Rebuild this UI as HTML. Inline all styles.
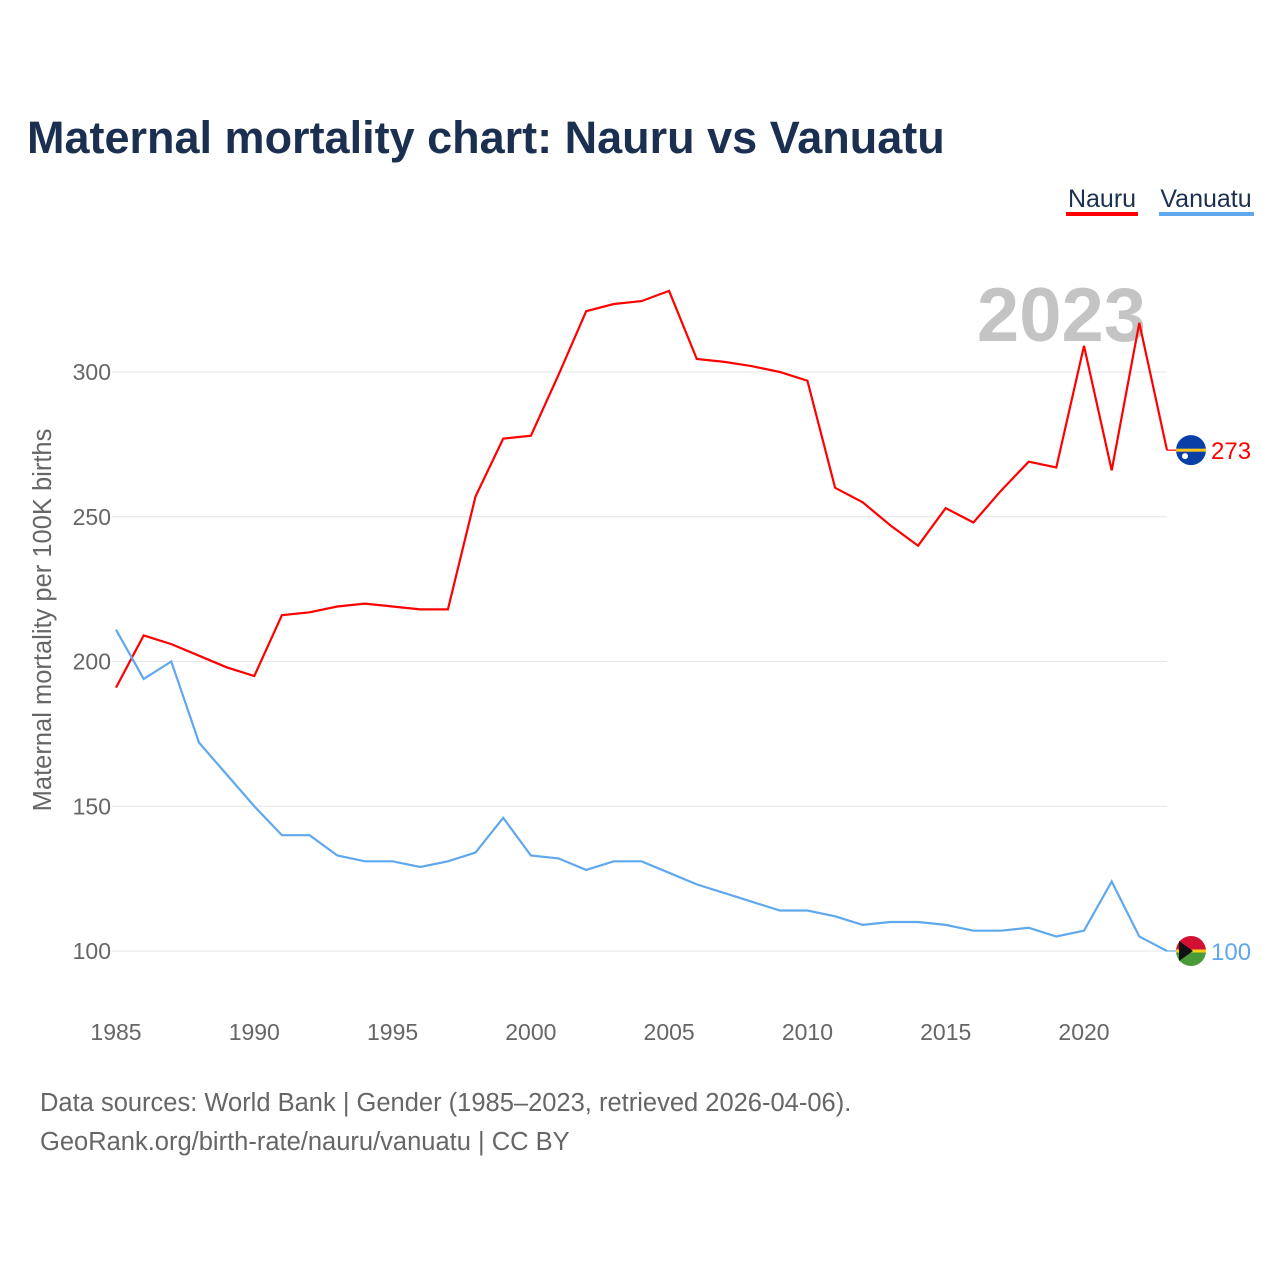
<!DOCTYPE html>
<html><head><meta charset="utf-8"><style>
body{margin:0;background:#fff;font-family:"Liberation Sans",sans-serif;}
svg text{font-family:"Liberation Sans",sans-serif;}
</style></head><body>
<svg id="chart" width="1280" height="1280" viewBox="0 0 1280 1280" xmlns="http://www.w3.org/2000/svg">
<text x="27" y="153" font-size="45" font-weight="bold" fill="#1b3050">Maternal mortality chart: Nauru vs Vanuatu</text>
<g><text x="1102" y="207" font-size="25" fill="#1b3050" text-anchor="middle">Nauru</text><rect x="1066" y="212" width="72" height="4" fill="#ff0000"/></g>
<g><text x="1206" y="207" font-size="25" fill="#1b3050" text-anchor="middle">Vanuatu</text><rect x="1159" y="212" width="95" height="4" fill="#5fa8ee"/></g>
<text x="1146" y="341" font-size="76" font-weight="bold" fill="#c4c4c4" text-anchor="end">2023</text>
<text transform="translate(51,620) rotate(-90)" font-size="25.5" fill="#666" text-anchor="middle">Maternal mortality per 100K births</text>
<g id="grid"></g><g id="lines"></g>
<text x="40" y="1111" font-size="25.5" fill="#666">Data sources: World Bank | Gender (1985–2023, retrieved 2026-04-06).</text>
<text x="40" y="1150" font-size="25.5" fill="#666">GeoRank.org/birth-rate/nauru/vanuatu | CC BY</text>
</svg>
<script>
const years=[1985,1986,1987,1988,1989,1990,1991,1992,1993,1994,1995,1996,1997,1998,1999,2000,2001,2002,2003,2004,2005,2006,2007,2008,2009,2010,2011,2012,2013,2014,2015,2016,2017,2018,2019,2020,2021,2022,2023];
const nauru=[191,209,206,202,198,195,216,217,219,220,219,218,218,257,277,278,299,321,323.5,324.5,328,304.5,303.5,302,300,297,260,255,247,240,253,248,259,269,267,309,266,317,273];
const vanuatu=[211,194,200,172,161,150,140,140,133,131,131,129,131,134,146,133,132,128,131,131,127,123,120,117,114,114,112,109,110,110,109,107,107,108,105,107,124,105,100];
const yTicks=[100,150,200,250,300];
const xTicks=[1985,1990,1995,2000,2005,2010,2015,2020];
const NS="http://www.w3.org/2000/svg";
const x=v=>116+(v-1985)*(968/35);
const y=v=>951-(v-100)*2.895;
function mk(t,a,p){const e=document.createElementNS(NS,t);for(const k in a)e.setAttribute(k,a[k]);p.appendChild(e);return e;}
const grid=document.getElementById('grid'),lines=document.getElementById('lines');
yTicks.forEach(v=>{
 const l=mk('line',{x1:112,x2:1167,y1:y(v),y2:y(v),stroke:'#e6e6e6','stroke-width':1},grid);
 
 
 const t=mk('text',{x:111,y:y(v)+8,'font-size':23,fill:'#666','text-anchor':'end'},grid);t.textContent=v;
 
 
});
xTicks.forEach(v=>{
 const t=mk('text',{x:x(v),y:1040,'font-size':23,fill:'#666','text-anchor':'middle'},grid);t.textContent=v;
 
 
});
function series(vals,color,name){
 const p=mk('path',{d:vals.map((v,i)=>(i?'L':'M')+x(years[i]).toFixed(1)+','+y(v).toFixed(1)).join(''),fill:'none',stroke:color,'stroke-width':2.2},lines);
 
 
 const last=vals[vals.length-1];
 const d=mk('line',{x1:x(years[years.length-1]),x2:1180,y1:y(last),y2:y(last),stroke:color,'stroke-width':1.2},lines);
 
 
 const t=mk('text',{x:1211,y:y(last)+9,'font-size':24,fill:color},lines);t.textContent=last;
 
 
 return y(last);
}
const yn=series(nauru,'#ff0000','nauru');
const yv=series(vanuatu,'#5fa8ee','vanuatu');
const g1=mk('g',{},lines);


mk('circle',{cx:1191,cy:yn,r:15,fill:'#0a3fa8'},g1);
mk('rect',{x:1176,y:yn-1.5,width:30,height:3,fill:'#ffc61e'},g1);
mk('circle',{cx:1185,cy:yn+6,r:3,fill:'#fff'},g1);
const g2=mk('g',{},lines);


mk('path',{d:`M1176,${yv} A15,15 0 0 1 1206,${yv} Z`,fill:'#d21034'},g2);
mk('path',{d:`M1176,${yv} A15,15 0 0 0 1206,${yv} Z`,fill:'#4a9a3a'},g2);
mk('rect',{x:1176,y:yv-1.5,width:30,height:3,fill:'#fdce12'},g2);
mk('path',{d:`M1179,${yv-10} L1193,${yv} L1179,${yv+10} Z`,fill:'#111'},g2);
</script>
</body></html>
